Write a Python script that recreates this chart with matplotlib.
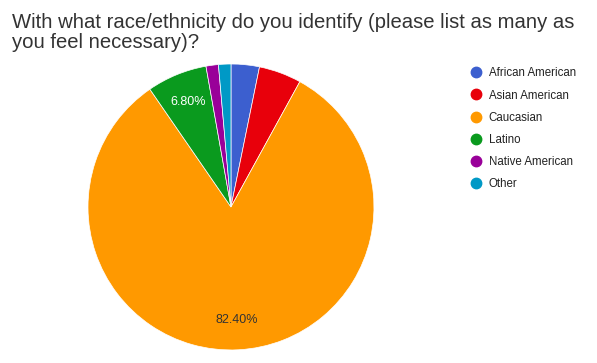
import matplotlib
matplotlib.use("Agg")
import matplotlib.pyplot as plt
from matplotlib.lines import Line2D

plt.rcParams['font.family'] = ['Liberation Sans', 'DejaVu Sans']

# survey answers, share of respondents (%)
groups = ["African American", "Asian American", "Caucasian", "Latino", "Native American", "Other"]
shares = [3.2, 4.8, 82.4, 6.8, 1.4, 1.4]
colors = ["#3c5fcf", "#e8000b", "#ff9900", "#0a9a1e", "#990099", "#0099c6"]
title_lines = ["With what race/ethnicity do you identify (please list as many as",
               "you feel necessary)?"]

fig = plt.figure(figsize=(5.97, 3.63), dpi=100)
ax = fig.add_axes([0.1474, 0.0358, 0.479, 0.788])

wedges, texts, autotexts = ax.pie(
    shares, colors=colors, startangle=90, counterclock=False,
    autopct=lambda p: "%.2f%%" % p if p > 5 else "",
    pctdistance=0.79, wedgeprops=dict(edgecolor="white", linewidth=0.5),
    textprops=dict(fontsize=9))
for t, v in zip(autotexts, shares):
    t.set_color("white" if v < 50 else "#333333")
ax.set_xlim(-1, 1)
ax.set_ylim(-1, 1)
ax.set_aspect("equal")

# two title lines, baselines placed in pixels from the top
for line, base in zip(title_lines, [28, 48]):
    fig.text(12 / 597, 1 - base / 363, line, fontsize=14.6, color="#333333",
             va="baseline", ha="left")

handles = [Line2D([], [], marker="o", linestyle="", markersize=7.5, color=c) for c in colors]
fig.legend(handles, groups, loc="upper left", bbox_to_anchor=(0.77, 0.843),
           frameon=False, fontsize=8.3, labelcolor="#222222", handletextpad=0.6,
           labelspacing=0.88, handlelength=1.0)

fig.savefig("out.png", dpi=100)
